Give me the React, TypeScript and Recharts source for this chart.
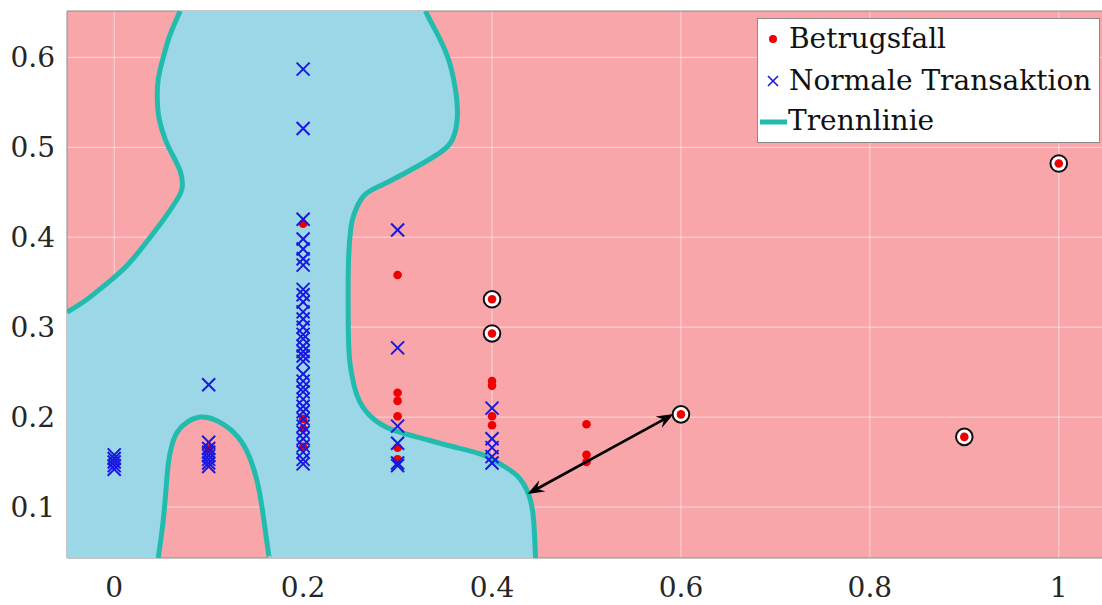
import React from 'react';
import {
  ScatterChart,
  Scatter,
  XAxis,
  YAxis,
  CartesianGrid,
  ReferenceLine,
  Legend,
} from 'recharts';

// axis ranges and ticks
const X_DOMAIN: [number, number] = [-0.05, 1.05];
const Y_DOMAIN: [number, number] = [0.0433, 0.6516];
const xTicks = [0, 0.2, 0.4, 0.6, 0.8, 1];
const yTicks = [0.1, 0.2, 0.3, 0.4, 0.5, 0.6];

// normal transactions, grouped by x column
const normalColumns: [number, number[]][] = [
  [0, [0.142, 0.146, 0.15, 0.154, 0.158]],
  [0.1, [0.236, 0.172, 0.165, 0.161, 0.157, 0.153, 0.149, 0.145]],
  [
    0.2,
    [
      0.587, 0.521, 0.42, 0.398, 0.387, 0.376, 0.369, 0.342, 0.336, 0.328, 0.317, 0.309,
      0.3, 0.292, 0.287, 0.279, 0.273, 0.268, 0.262, 0.248, 0.24, 0.233, 0.228, 0.22,
      0.212, 0.206, 0.198, 0.19, 0.183, 0.176, 0.168, 0.161, 0.153, 0.148,
    ],
  ],
  [0.3, [0.408, 0.277, 0.19, 0.171, 0.149, 0.146]],
  [0.4, [0.21, 0.176, 0.166, 0.156, 0.149]],
];

// fraud cases, grouped by x column
const fraudColumns: [number, number[]][] = [
  [0.1, [0.165]],
  [0.2, [0.415, 0.198, 0.187, 0.167]],
  [0.3, [0.358, 0.227, 0.218, 0.201, 0.166, 0.153]],
  [0.4, [0.24, 0.235, 0.201, 0.191]],
  [0.5, [0.192, 0.158, 0.15]],
];

// fraud cases that are highlighted with a ring
const flaggedFraud: [number, number][] = [
  [0.4, 0.331],
  [0.4, 0.293],
  [0.6, 0.203],
  [0.9, 0.178],
  [1, 0.482],
];

// decision boundary pieces (Trennlinie)
const boundaryUpperLeft: [number, number][] = [
  [-0.05, 0.3167], [-0.0286, 0.3311], [-0.0074, 0.3489], [0.0148, 0.37], [0.0381, 0.4],
  [0.054, 0.4222], [0.0667, 0.4422], [0.072, 0.4556], [0.0699, 0.4733], [0.0614, 0.4922],
  [0.054, 0.5089], [0.0477, 0.5311], [0.0456, 0.5533], [0.0466, 0.5756], [0.0519, 0.6],
  [0.0593, 0.6256], [0.0699, 0.6516],
];
const boundaryRight: [number, number][] = [
  [0.3294, 0.6516], [0.3379, 0.6344], [0.3528, 0.6011], [0.3612, 0.5644], [0.3633, 0.5344],
  [0.3581, 0.5089], [0.3453, 0.4944], [0.321, 0.4789], [0.285, 0.4589], [0.2638, 0.4456],
  [0.2532, 0.4233], [0.25, 0.4056], [0.2479, 0.3678], [0.2479, 0.2944], [0.25, 0.2567],
  [0.2574, 0.2233], [0.2712, 0.2011], [0.2924, 0.1867], [0.321, 0.1778], [0.3559, 0.1678],
  [0.3909, 0.1578], [0.4121, 0.1456], [0.4269, 0.1344], [0.4386, 0.1144], [0.4439, 0.0867],
  [0.446, 0.0433],
];
const boundaryBump: [number, number][] = [
  [0.0466, 0.0433], [0.0508, 0.0756], [0.054, 0.1089], [0.0572, 0.1478], [0.0614, 0.17],
  [0.0667, 0.1833], [0.0773, 0.1944], [0.0911, 0.2], [0.107, 0.1967], [0.1261, 0.1833],
  [0.1409, 0.1611], [0.1515, 0.1278], [0.1578, 0.09], [0.1631, 0.05], [0.1642, 0.0433],
];

// distance arrow between boundary and the flagged point
const arrowEnds: [number, number][] = [
  [0.4375, 0.1144],
  [0.5922, 0.2033],
];

const PINK = '#f9a6aa';
const BLUE_REGION = '#9cd7e7';
const TEAL = '#22bcae';
const RED = '#f00000';
const BLUE = '#1818e0';
const FONT = 'DejaVu Serif';

const toPoints = (pairs: [number, number][]) => pairs.map(([x, y]) => ({ x, y }));
const fromColumns = (cols: [number, number[]][]) =>
  cols.flatMap(([x, ys]) => ys.map((y) => ({ x, y })));

const normalPoints = fromColumns(normalColumns);
const fraudPoints = fromColumns(fraudColumns);
const flaggedPoints = toPoints(flaggedFraud);

// blue class region: boundaries joined along the plot edges
const regionPoints = [
  ...toPoints(boundaryUpperLeft),
  ...toPoints(boundaryRight),
  ...toPoints([...boundaryBump].reverse()),
  { x: X_DOMAIN[0], y: Y_DOMAIN[0] },
];

const noShape = () => <g />;

const renderRegion = (props: any) => {
  const pts = props.points as { x: number; y: number }[];
  const d = pts.map((p, i) => `${i ? 'L' : 'M'}${p.x},${p.y}`).join(' ') + ' Z';
  return <path d={d} fill={BLUE_REGION} stroke="none" />;
};

const arrowHead = (tx: number, ty: number, ux: number, uy: number) => {
  const len = 17;
  const half = 6.5;
  const notch = 11;
  const bx = tx - ux * len;
  const by = ty - uy * len;
  const nx = -uy;
  const ny = ux;
  return `M${tx},${ty} L${bx + nx * half},${by + ny * half} L${tx - ux * notch},${ty - uy * notch} L${bx - nx * half},${by - ny * half} Z`;
};

const renderArrow = (props: any) => {
  const [a, b] = props.points as { x: number; y: number }[];
  const dx = b.x - a.x;
  const dy = b.y - a.y;
  const l = Math.hypot(dx, dy);
  const ux = dx / l;
  const uy = dy / l;
  return (
    <g>
      <line
        x1={a.x + ux * 10}
        y1={a.y + uy * 10}
        x2={b.x - ux * 10}
        y2={b.y - uy * 10}
        stroke="#000"
        strokeWidth={2.6}
      />
      <path d={arrowHead(b.x, b.y, ux, uy)} fill="#000" />
      <path d={arrowHead(a.x, a.y, -ux, -uy)} fill="#000" />
    </g>
  );
};

const RedDot = (props: any) => <circle cx={props.cx} cy={props.cy} r={4.3} fill={RED} />;

const BlueCross = (props: any) => {
  const { cx, cy } = props;
  const s = 6.5;
  return (
    <g stroke={BLUE} strokeWidth={2}>
      <line x1={cx - s} y1={cy - s} x2={cx + s} y2={cy + s} />
      <line x1={cx - s} y1={cy + s} x2={cx + s} y2={cy - s} />
    </g>
  );
};

const RingedDot = (props: any) => (
  <g>
    <circle cx={props.cx} cy={props.cy} r={8.3} fill="#fff" stroke="#111" strokeWidth={2} />
    <circle cx={props.cx} cy={props.cy} r={4.3} fill={RED} />
  </g>
);

const LegendBox = () => (
  <svg width={343} height={125} style={{ display: 'block' }}>
    <rect x={0.5} y={0.5} width={342} height={124} fill="#fff" stroke="#8a8a8a" />
    <circle cx={16} cy={21} r={4} fill={RED} />
    <text x={32} y={30} fontFamily={FONT} fontSize={28} fill="#111">
      Betrugsfall
    </text>
    <g stroke={BLUE} strokeWidth={1.6}>
      <line x1={11} y1={58} x2={21} y2={68} />
      <line x1={11} y1={68} x2={21} y2={58} />
    </g>
    <text x={32} y={72} fontFamily={FONT} fontSize={28} fill="#111">
      Normale Transaktion
    </text>
    <line x1={3} y1={104} x2={30} y2={104} stroke={TEAL} strokeWidth={5} />
    <text x={31} y={112} fontFamily={FONT} fontSize={28} fill="#111">
      Trennlinie
    </text>
  </svg>
);

const tickStyle = { fontFamily: FONT, fontSize: 28, fill: '#262626' };
const AXIS_GREY = '#8c8c8c';

export default function App() {
  return (
    <div style={{ position: 'absolute', left: 0, top: 0, width: 1102, height: 605, overflow: 'hidden', background: '#fff' }}>
      <ScatterChart width={1106} height={605} margin={{ top: 11, right: 0, bottom: 0, left: 0 }}>
        <CartesianGrid fill={PINK} horizontal={false} vertical={false} />
        <XAxis
          type="number"
          dataKey="x"
          domain={X_DOMAIN}
          ticks={xTicks}
          allowDataOverflow
          height={47}
          tick={tickStyle}
          tickLine={false}
          tickMargin={13}
          axisLine={{ stroke: AXIS_GREY }}
        />
        <YAxis
          type="number"
          dataKey="y"
          domain={Y_DOMAIN}
          ticks={yTicks}
          allowDataOverflow
          width={67}
          tick={tickStyle}
          tickLine={false}
          tickMargin={6}
          axisLine={{ stroke: AXIS_GREY }}
        />
        <Scatter data={regionPoints} shape={noShape} line={renderRegion} isAnimationActive={false} />
        {xTicks.map((t) => (
          <ReferenceLine key={`gx${t}`} x={t} stroke="#fff" strokeOpacity={0.55} strokeWidth={1} />
        ))}
        {yTicks.map((t) => (
          <ReferenceLine key={`gy${t}`} y={t} stroke="#fff" strokeOpacity={0.55} strokeWidth={1} />
        ))}
        <ReferenceLine y={Y_DOMAIN[1]} stroke={AXIS_GREY} strokeWidth={1} />
        {[boundaryUpperLeft, boundaryRight, boundaryBump].map((b, i) => (
          <Scatter
            key={`b${i}`}
            data={toPoints(b)}
            shape={noShape}
            line={{ stroke: TEAL, strokeWidth: 5 }}
            lineType="joint"
            lineJointType="natural"
            isAnimationActive={false}
          />
        ))}
        <Scatter name="Betrugsfall" data={fraudPoints} shape={RedDot} isAnimationActive={false} />
        <Scatter name="Normale Transaktion" data={normalPoints} shape={BlueCross} isAnimationActive={false} />
        <Scatter data={flaggedPoints} shape={RingedDot} isAnimationActive={false} />
        <Scatter data={toPoints(arrowEnds)} shape={noShape} line={renderArrow} isAnimationActive={false} />
        <Legend
          layout="vertical"
          align="center"
          verticalAlign="middle"
          content={() => <LegendBox />}
          wrapperStyle={{ left: 757, top: 18, width: 343, height: 125 }}
        />
      </ScatterChart>
    </div>
  );
}
